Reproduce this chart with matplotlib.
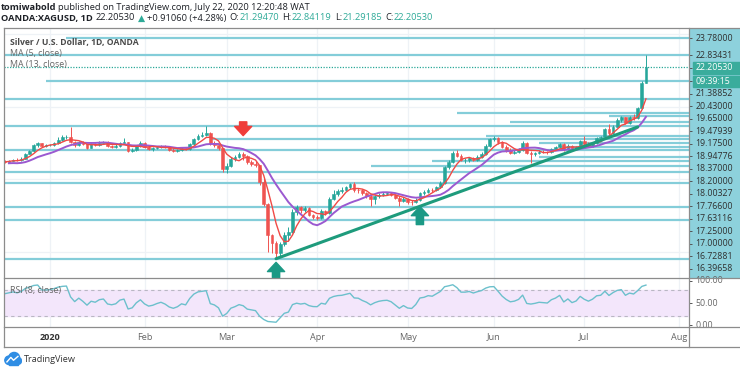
import matplotlib
matplotlib.use("Agg")
import matplotlib.pyplot as plt
from matplotlib.lines import Line2D
from matplotlib.patches import Circle, Rectangle
import numpy as np
import pandas as pd

plt.rcParams['font.family'] = ['Open Sans', 'DejaVu Sans']

# --- daily bars OANDA:XAGUSD, Dec 2 2019 .. Jul 22 2020 (open = previous close) ---
first_open = 16.92
closes = [
    # Dec
    16.97, 17.14, 16.90, 16.84, 16.55, 16.62, 16.64, 16.86, 16.93, 17.02, 16.98,
    16.96, 17.02, 17.08, 17.06, 17.14, 17.40, 17.56, 17.86, 17.98, 17.84, 17.86,
    # Jan
    17.88, 18.00, 18.18, 18.30, 18.35, 18.05, 17.86, 18.06, 17.92, 17.72, 17.93, 17.88,
    18.02, 18.06, 17.84, 17.80, 17.84, 18.00, 18.05, 17.55, 17.60, 17.84, 18.02,
    # Feb
    17.80, 17.66, 17.70, 17.78, 17.84, 17.76, 17.62, 17.55, 17.60, 17.70,
    17.66, 17.92, 18.20, 18.40, 18.46, 18.52, 17.98, 17.90, 17.70, 16.58,
    # Mar
    16.75, 17.12, 17.24, 17.40, 17.30, 16.95, 16.86, 16.78, 15.85, 14.62, 12.95,
    12.50, 11.95, 12.42, 12.95, 13.10, 14.20, 14.45, 14.30, 14.40, 14.05, 13.90,
    # Apr
    13.88, 14.25, 14.15, 14.90, 15.20, 15.35, 15.40, 15.55, 15.72, 15.40, 15.38,
    15.22, 15.10, 14.90, 15.05, 15.15, 15.20, 15.22, 15.15, 14.98, 14.78, 14.90,
    # May
    14.75, 14.72, 14.88, 15.25, 15.30, 15.42, 15.40, 15.58, 15.80, 16.65, 16.95,
    17.45, 17.30, 17.05, 17.05, 17.15, 17.08, 17.25, 17.40, 17.85, 18.20,
    # Jun
    18.25, 18.05, 17.80, 17.60, 17.45, 17.50, 17.62, 18.00, 17.45, 17.40, 17.45,
    17.52, 17.50, 17.48, 17.66, 17.76, 17.95, 17.65, 17.85, 17.65, 17.75, 18.10,
    # Jul
    17.95, 17.85, 17.98, 18.25, 18.30, 18.75, 18.55, 18.90, 19.25, 19.40, 19.10,
    19.40, 19.35, 19.90, 21.2947, 22.2053,
]
highs = [
    17.02, 17.20, 17.16, 16.98, 16.88, 16.70, 16.72, 16.92, 17.05, 17.12, 17.08,
    17.05, 17.08, 17.14, 17.15, 17.20, 17.45, 17.60, 17.92, 18.05, 18.02, 17.95,
    17.95, 18.06, 18.30, 18.45, 18.42, 18.90, 18.10, 18.12, 18.10, 17.95, 18.00, 17.98,
    18.08, 18.12, 18.08, 17.90, 17.92, 18.05, 18.28, 18.05, 17.70, 17.90, 18.08,
    18.05, 17.82, 17.78, 17.85, 17.90, 17.88, 17.80, 17.70, 17.68, 17.76,
    17.74, 17.98, 18.25, 18.48, 18.62, 18.92, 18.60, 18.10, 17.95, 17.72,
    16.90, 17.20, 17.32, 17.48, 17.48, 17.35, 17.05, 16.98, 16.80, 16.10, 14.70,
    13.00, 12.60, 12.55, 13.10, 13.35, 14.35, 14.60, 14.50, 14.55, 14.45, 14.10,
    14.05, 14.35, 14.32, 15.00, 15.40, 15.45, 15.55, 15.62, 15.80, 15.85, 15.50,
    15.45, 15.30, 15.15, 15.12, 15.25, 15.30, 15.32, 15.28, 15.20, 15.05, 15.02,
    14.95, 14.85, 14.96, 15.32, 15.40, 15.50, 15.52, 15.65, 15.88, 16.72, 17.05,
    17.55, 17.60, 17.40, 17.18, 17.22, 17.20, 17.32, 17.48, 17.92, 18.28,
    18.40, 18.30, 18.10, 17.90, 17.70, 17.60, 17.70, 18.08, 18.05, 17.55, 17.52,
    17.60, 17.60, 17.56, 17.72, 17.82, 18.02, 17.98, 17.92, 17.90, 17.82, 18.15,
    18.40, 18.05, 18.05, 18.32, 18.40, 18.82, 19.05, 18.98, 19.35, 19.48, 19.45,
    19.48, 19.62, 19.98, 21.40, 22.84119,
]
lows = [
    16.85, 16.90, 16.85, 16.78, 16.50, 16.52, 16.55, 16.60, 16.80, 16.85, 16.92,
    16.90, 16.92, 16.98, 17.00, 17.02, 17.12, 17.38, 17.52, 17.80, 17.78, 17.76,
    17.82, 17.85, 17.96, 18.10, 18.20, 17.98, 17.80, 17.82, 17.88, 17.65, 17.70, 17.82,
    17.85, 17.98, 17.78, 17.74, 17.70, 17.80, 17.98, 17.48, 17.50, 17.55, 17.80,
    17.72, 17.60, 17.58, 17.66, 17.72, 17.70, 17.56, 17.50, 17.50, 17.55,
    17.60, 17.62, 17.88, 18.15, 18.32, 18.40, 17.90, 17.80, 17.62, 16.40,
    16.36, 16.70, 17.02, 17.18, 17.05, 16.86, 16.74, 16.70, 15.70, 14.50, 12.00,
    11.95, 11.62, 11.70, 12.30, 12.60, 13.05, 14.05, 14.15, 14.20, 13.95, 13.80,
    13.75, 13.82, 14.05, 14.10, 14.85, 15.10, 15.25, 15.35, 15.45, 15.30, 15.22,
    15.15, 14.98, 14.50, 14.62, 14.98, 15.08, 15.12, 15.05, 14.90, 14.55, 14.72,
    14.62, 14.60, 14.68, 14.80, 15.15, 15.25, 15.30, 15.35, 15.50, 15.75, 16.55,
    16.90, 17.20, 16.98, 16.90, 16.95, 17.00, 17.02, 17.15, 17.35, 17.80,
    18.10, 17.95, 17.72, 17.52, 17.38, 17.40, 17.45, 17.58, 17.40, 16.92, 17.30,
    17.40, 17.42, 17.38, 17.45, 17.60, 17.70, 17.58, 17.60, 17.58, 17.60, 17.72,
    17.88, 17.78, 17.80, 17.92, 18.15, 18.25, 18.45, 18.50, 18.85, 19.15, 19.02,
    19.05, 19.25, 19.30, 19.85, 21.29185,
]

# horizontal levels drawn on the chart (None = line from the left edge)
levels = [23.78, 22.83431, 21.38852, 20.43, 19.65, 19.47939, 19.175, 18.94776,
          18.37, 18.2, 18.00327, 17.766, 17.63116, 17.25, 17.0, 16.72881,
          16.39658, 15.78, 14.45, 13.73, 11.62]
level_start = ['2020-01-07', None, '2019-12-31', None, '2020-05-19', '2020-07-09',
               '2020-06-05', None, '2020-05-28', '2020-02-25', '2020-06-16',
               '2020-06-23', None, '2020-06-16', '2020-05-11', '2020-04-20',
               None, None, None, None, None]
n_labeled = 17
trend_dates = ['2020-03-18', '2020-07-20']
trend_prices = [11.62, 18.88]
month_labels = ['2020', 'Feb', 'Mar', 'Apr', 'May', 'Jun', 'Jul', 'Aug']
month_starts = ['2020-01-01', '2020-02-01', '2020-03-01', '2020-04-01',
                '2020-05-01', '2020-06-01', '2020-07-01', '2020-08-01']
timer_text = '09:39:15'

dates = pd.bdate_range('2019-12-02', periods=len(closes))
all_days = pd.bdate_range('2019-12-02', '2020-08-10')
opens = [first_open] + closes[:-1]
df = pd.DataFrame({'open': opens, 'high': highs, 'low': lows, 'close': closes}, index=dates)
idx = np.arange(len(df))

ma5 = df.close.rolling(5).mean()
ma13 = df.close.rolling(13).mean()
delta = df.close.diff()
gain = delta.clip(lower=0).ewm(alpha=1 / 8, adjust=False).mean()
loss = (-delta.clip(upper=0)).ewm(alpha=1 / 8, adjust=False).mean()
rsi = 100 - 100 / (1 + gain / loss)


def pos(d):
    return all_days.searchsorted(pd.Timestamp(d))


# layout in pixels
W, H = 740, 373
fig = plt.figure(figsize=(W / 100, H / 100), dpi=100)


def box(x0, y0, x1, y1):
    return [x0 / W, 1 - y1 / H, (x1 - x0) / W, (y1 - y0) / H]


ax = fig.add_axes(box(4, 28, 689, 278))
ax_r = fig.add_axes(box(4, 278, 689, 327))
ax_d = fig.add_axes(box(4, 327, 689, 347))
ax_p = fig.add_axes(box(689, 28, 740, 278))
ax_pr = fig.add_axes(box(689, 278, 740, 327))

bar_px = 4.11
jan1 = pos('2020-01-01')
xlim = (jan1 - 46 / bar_px, jan1 + 639 / bar_px)
ylim = (10.557, 24.331)
rsi_lim = (-4.5, 106.8)

for a in (ax, ax_r, ax_d, ax_p, ax_pr):
    a.set_xticks([])
    a.set_yticks([])
    for s in a.spines.values():
        s.set_visible(False)
for a in (ax, ax_r, ax_d):
    a.set_xlim(*xlim)
ax.set_ylim(*ylim)
ax_p.set_ylim(*ylim)
ax_p.set_xlim(0, 1)
ax_r.set_ylim(*rsi_lim)
ax_pr.set_ylim(*rsi_lim)
ax_pr.set_xlim(0, 1)
ax_d.set_ylim(0, 1)

grid_c = '#eef2f6'
mpos = [pos(m) for m in month_starts]
for m in mpos:
    ax.axvline(m, color=grid_c, lw=0.9, zorder=0)
    ax_r.axvline(m, color=grid_c, lw=0.9, zorder=0)
for g in (12, 16, 20, 24):
    ax.axhline(g, color=grid_c, lw=0.9, zorder=0)

# levels
lvl_c = '#84cdd9'
for v, st in zip(levels, level_start):
    x0 = xlim[0] if st is None else pos(st)
    ax.hlines(v, x0, xlim[1], color=lvl_c, lw=1.6, zorder=1)
ax.axhline(closes[-1], color='#2aa898', lw=0.9, ls=(0, (1, 1.2)), zorder=1)

# candles
up = df.close.values >= df.open.values
cols = np.where(up, '#26a69a', '#ef5350')
ax.vlines(idx, df.low, df.high, colors=cols, lw=0.7, zorder=3)
ax.bar(idx, np.abs(df.close - df.open), bottom=np.minimum(df.open, df.close),
       width=0.66, color=cols, edgecolor=cols, lw=0.4, zorder=4)

ax.plot(idx, ma13, color='#9b59d0', lw=1.4, zorder=5)
ax.plot(idx, ma5, color='#f04a46', lw=1.0, zorder=5)

ax.plot([pos(d) for d in trend_dates], trend_prices, color='#1e9b7c', lw=2.2,
        solid_capstyle='round', zorder=6)


def arrow(d, tip, tail, color):
    ax.annotate('', xy=(pos(d), tip), xytext=(pos(d), tail),
                arrowprops=dict(arrowstyle='simple,head_length=0.7,head_width=1.3,tail_width=0.55',
                                color=color, shrinkA=0, shrinkB=0, mutation_scale=9.5),
                zorder=7)


arrow('2020-03-18', 11.42, ylim[0] + 0.02, '#1b9985')
arrow('2020-05-06', 14.50, 13.50, '#1b9985')
arrow('2020-03-06', 18.40, 19.16, '#ef3d3a')

# RSI pane
ax_r.axhspan(20, 80, color='#f3e6fb', zorder=0)
for lv in (80, 20):
    ax_r.axhline(lv, color='#b9b7c3', lw=0.8, ls=(0, (3, 3)), zorder=1)
ax_r.plot(idx, rsi, color='#6cc0cc', lw=1.0, zorder=3)

# date strip
for m, lab in zip(mpos, month_labels):
    ax_d.text(m, 0.5, lab, ha='center', va='center', fontsize=6.6,
              color='#333333' if lab == '2020' else '#666666',
              fontweight='bold' if lab == '2020' else 'normal')

# price scale
ax_p.set_facecolor('#8dd1dc')
step = 12.5 * (ylim[1] - ylim[0]) / 250
entries = [(v, f'{v:.5f}', False) for v in levels[:n_labeled]]
entries.append((closes[-1], f'{closes[-1]:.5f}', True))
entries.sort(key=lambda e: -e[0])
placed = []
prev = ylim[1] + step
for v, lab, hl in entries:
    y = min(v, prev - step)
    placed.append((y, lab, hl))
    prev = y
    if hl:
        prev = y - step * 0.1
        placed.append((prev - step, timer_text, True))
        prev = prev - step
for y, lab, hl in placed:
    if hl:
        ax_p.add_patch(Rectangle((0.07, y - step * 0.47), 0.93, step * 0.94,
                                 color='#3aac9c', zorder=2))
    ax_p.hlines(y, 0, 0.06, color='#555555', lw=0.7)
    ax_p.text(0.13, y, lab, ha='left', va='center', fontsize=6.3,
              color='white' if hl else '#303030', zorder=3)

for v in (100, 50, 0):
    ax_pr.hlines(v, 0, 0.06, color='#555555', lw=0.7)
    ax_pr.text(0.13, v, f'{v:.2f}', ha='left', va='center', fontsize=6.3, color='#666666')

# legend texts
fig.text(10 / W, 1 - 42 / H, 'Silver / U.S. Dollar, 1D, OANDA', fontsize=6.2,
         fontweight='bold', color='#4a4a4a', va='center')
fig.text(10 / W, 1 - 53.5 / H, 'MA (5, close)', fontsize=6.4, color='#666666', va='center')
fig.text(10 / W, 1 - 65 / H, 'MA (13, close)', fontsize=6.4, color='#666666', va='center')
fig.text(10 / W, 1 - 290 / H, 'RSI (8, close)', fontsize=6.4, color='#666666', va='center')

# header
renderer = fig.canvas.get_renderer()


def chain(parts, x_px, y_px, size):
    x = x_px
    for s, color, weight, gap in parts:
        x += gap
        t = fig.text(x / W, 1 - y_px / H, s, color=color, fontweight=weight,
                     fontsize=size, ha='left', va='center')
        bb = t.get_window_extent(renderer=renderer)
        x = bb.x1


dark = '#1e2127'
teal = '#2eaa98'
chain([('tomiwabold', dark, 'bold', 0),
       ('published on TradingView.com, July 22, 2020 12:20:48 WAT', dark, 'normal', 2)],
      1, 7, 6.7)
chain([('OANDA:XAGUSD, 1D', dark, 'bold', 0),
       (f'{closes[-1]:.5f}', dark, 'normal', 3),
       ('\u25b2', teal, 'normal', 2.5),
       ('+0.91060 (+4.28%)', dark, 'normal', 2.5),
       ('O:', dark, 'normal', 3), (f'{opens[-1]:.5f}', teal, 'normal', 0.5),
       ('H:', dark, 'normal', 3), (f'{highs[-1]:.5f}', teal, 'normal', 0.5),
       ('L:', dark, 'normal', 3), (f'{lows[-1]:.5f}', teal, 'normal', 0.5),
       ('C:', dark, 'normal', 3), (f'{closes[-1]:.5f}', teal, 'normal', 0.5)],
      1, 18, 6.7)

# frame
frame_c = '#8c8c8c'


def fline(x0, y0, x1, y1):
    fig.add_artist(Line2D([x0 / W, x1 / W], [1 - y0 / H, 1 - y1 / H],
                          transform=fig.transFigure, color=frame_c, lw=0.9))


fline(4, 28, 740, 28)
fline(4, 28, 4, 347)
fline(4, 347, 740, 347)
fline(689, 28, 689, 347)
fline(4, 278, 740, 278)
fline(4, 327, 740, 327)

# logo
ax_l = fig.add_axes(box(4, 351, 22, 367))
ax_l.set_xlim(0, 1.1)
ax_l.set_ylim(0, 1)
ax_l.axis('off')
for cx, cy, r in ((0.32, 0.42, 0.27), (0.62, 0.58, 0.33), (0.85, 0.38, 0.22)):
    ax_l.add_patch(Circle((cx, cy), r, color='#2f8de4'))
ax_l.add_patch(Rectangle((0.32, 0.15), 0.55, 0.3, color='#2f8de4'))
ax_l.plot([0.18, 0.42, 0.58, 0.85], [0.32, 0.6, 0.42, 0.66], color='white', lw=1.0)
fig.text(24 / W, 1 - 360 / H, 'TradingView', fontsize=6.6, color='#333333', va='center')

fig.savefig('out.png', dpi=100)
